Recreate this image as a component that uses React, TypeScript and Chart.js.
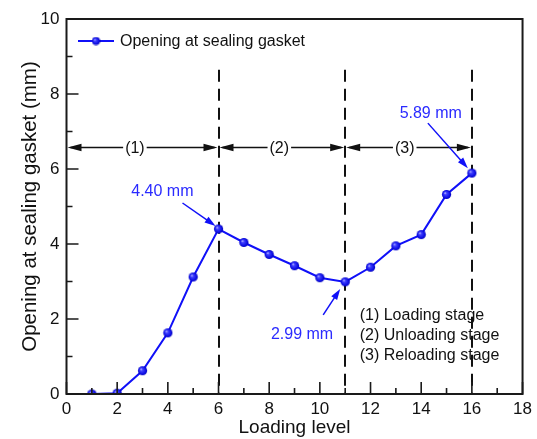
import React, { useEffect, useRef } from 'react';
import { Chart, registerables } from 'chart.js';

Chart.register(...registerables);

// ---- data ----
const loadingLevels = [1, 2, 3, 4, 5, 6, 7, 8, 9, 10, 11, 12, 13, 14, 15, 16];
const openingMm = [0.0, 0.02, 0.62, 1.63, 3.12, 4.40, 4.04, 3.72, 3.42, 3.10, 2.99, 3.38, 3.95, 4.25, 5.32, 5.89];
const xTickValues = [0, 2, 4, 6, 8, 10, 12, 14, 16, 18];
const yTickValues = [0, 2, 4, 6, 8, 10];
const stageBounds = [0, 6, 11, 16];
const stageTags = ['(1)', '(2)', '(3)'];
const stageTagAt = [2.7, 8.4, 13.35];
const stageArrowLevel = 6.6;
const dashedTopLevel = 8.65;
const stageNames = ['(1) Loading stage', '(2) Unloading stage', '(3) Reloading stage'];
const calloutLevels = [6, 11, 16];
const seriesName = 'Opening at sealing gasket';

// ---- style ----
const FONT = '"Liberation Sans", Arial, Helvetica, sans-serif';
const BLUE = '#1010f8';
const TEXT_BLUE = '#2a2aff';
const calloutGeom = [
  { tx: -25, ty: -37, ax: -36, ay: -26, hx: -3, hy: -3 },
  { tx: -12, ty: 53, ax: -22, ay: 33, hx: -5, hy: 7 },
  { tx: -10, ty: -60, ax: -44, ay: -50, hx: -4, hy: -5 },
];

function makeSphere(r: number): HTMLCanvasElement {
  const c = document.createElement('canvas');
  const s = Math.ceil(r * 2 + 1);
  c.width = s;
  c.height = s;
  const g = c.getContext('2d')!;
  const cx = s / 2, cy = s / 2;
  const grad = g.createRadialGradient(cx - r * 0.35, cy - r * 0.35, 0, cx, cy, r);
  grad.addColorStop(0, '#d8d8ff');
  grad.addColorStop(0.3, '#4040ff');
  grad.addColorStop(0.85, '#0808e0');
  grad.addColorStop(1, '#0000b0');
  g.fillStyle = grad;
  g.beginPath();
  g.arc(cx, cy, r, 0, Math.PI * 2);
  g.fill();
  return c;
}

function head(ctx: CanvasRenderingContext2D, tx: number, ty: number, fx: number, fy: number, len: number, half: number) {
  const a = Math.atan2(ty - fy, tx - fx);
  const bx = tx - Math.cos(a) * len, by = ty - Math.sin(a) * len;
  ctx.beginPath();
  ctx.moveTo(tx, ty);
  ctx.lineTo(bx + Math.sin(a) * half, by - Math.cos(a) * half);
  ctx.lineTo(bx - Math.sin(a) * half, by + Math.cos(a) * half);
  ctx.closePath();
  ctx.fill();
}

export default function App() {
  const ref = useRef<HTMLCanvasElement | null>(null);

  useEffect(() => {
    if (!ref.current) return;
    const sphere = makeSphere(4.6);
    const legendSphere = makeSphere(4);

    const overlay = {
      id: 'overlay',
      beforeDatasetsDraw(chart: any) {
        const { ctx, chartArea: ca, scales } = chart;
        const x = scales.x, y = scales.y;
        ctx.save();
        // dashed stage boundaries
        ctx.strokeStyle = '#111';
        ctx.lineWidth = 2;
        ctx.setLineDash([12, 7]);
        for (const b of stageBounds.slice(1)) {
          const px = Math.round(x.getPixelForValue(b));
          ctx.beginPath();
          ctx.moveTo(px, y.getPixelForValue(dashedTopLevel));
          ctx.lineTo(px, ca.bottom);
          ctx.stroke();
        }
        ctx.setLineDash([]);
        // stage double arrows
        const ay = Math.round(y.getPixelForValue(stageArrowLevel)) + 0.5;
        ctx.font = `16px ${FONT}`;
        ctx.textAlign = 'center';
        ctx.textBaseline = 'middle';
        ctx.fillStyle = '#111';
        ctx.lineWidth = 1.5;
        for (let i = 0; i < stageTags.length; i++) {
          const x0 = x.getPixelForValue(stageBounds[i]);
          const x1 = x.getPixelForValue(stageBounds[i + 1]);
          const lx = x.getPixelForValue(stageTagAt[i]);
          const w = ctx.measureText(stageTags[i]).width;
          ctx.beginPath();
          ctx.moveTo(x0 + 4, ay);
          ctx.lineTo(lx - w / 2 - 2, ay);
          ctx.moveTo(lx + w / 2 + 2, ay);
          ctx.lineTo(x1 - 4, ay);
          ctx.stroke();
          head(ctx, x0 + 1, ay, x0 + 20, ay, 14, 3.8);
          head(ctx, x1 - 1, ay, x1 - 20, ay, 14, 3.8);
          ctx.fillText(stageTags[i], lx, ay + 1);
        }
        ctx.restore();
      },
      afterDatasetsDraw(chart: any) {
        const { ctx, chartArea: ca, scales } = chart;
        const x = scales.x, y = scales.y;
        ctx.save();
        // callouts
        ctx.font = `16px ${FONT}`;
        ctx.textBaseline = 'middle';
        ctx.textAlign = 'right';
        for (let i = 0; i < calloutLevels.length; i++) {
          const lvl = calloutLevels[i];
          const val = openingMm[loadingLevels.indexOf(lvl)];
          const px = x.getPixelForValue(lvl), py = y.getPixelForValue(val);
          const g = calloutGeom[i];
          ctx.fillStyle = TEXT_BLUE;
          ctx.fillText(`${val.toFixed(2)} mm`, px + g.tx, py + g.ty);
          ctx.strokeStyle = BLUE;
          ctx.fillStyle = BLUE;
          ctx.lineWidth = 1.5;
          const sx = px + g.ax, sy = py + g.ay, ex = px + g.hx, ey = py + g.hy;
          const a = Math.atan2(ey - sy, ex - sx);
          ctx.beginPath();
          ctx.moveTo(sx, sy);
          ctx.lineTo(ex - Math.cos(a) * 8, ey - Math.sin(a) * 8);
          ctx.stroke();
          head(ctx, ex, ey, sx, sy, 11, 3.5);
        }
        // stage names
        ctx.fillStyle = '#111';
        ctx.textAlign = 'left';
        const nx = x.getPixelForValue(stageBounds[2]) + 14.5;
        for (let i = 0; i < stageNames.length; i++) {
          ctx.fillText(stageNames[i], nx, ca.top + 297 + i * 20);
        }
        // legend
        const ly = ca.top + 22;
        const lx = ca.left + 11.5;
        ctx.strokeStyle = BLUE;
        ctx.lineWidth = 2;
        ctx.beginPath();
        ctx.moveTo(lx, ly);
        ctx.lineTo(lx + 36, ly);
        ctx.stroke();
        ctx.drawImage(legendSphere, lx + 18 - legendSphere.width / 2, ly - legendSphere.height / 2);
        ctx.fillStyle = '#111';
        ctx.fillText(seriesName, lx + 42, ly + 1);
        // frame
        ctx.strokeStyle = '#1a1a1a';
        ctx.lineWidth = 2;
        ctx.strokeRect(ca.left, ca.top, ca.right - ca.left, ca.bottom - ca.top);
        // inward ticks
        ctx.lineWidth = 1.6;
        ctx.beginPath();
        for (let i = 0; i < xTickValues.length; i++) {
          const v = xTickValues[i];
          const px = x.getPixelForValue(v);
          ctx.moveTo(px, ca.bottom);
          ctx.lineTo(px, ca.bottom - 12);
          if (i < xTickValues.length - 1) {
            const m = x.getPixelForValue((v + xTickValues[i + 1]) / 2);
            ctx.moveTo(m, ca.bottom);
            ctx.lineTo(m, ca.bottom - 6);
          }
        }
        for (let i = 0; i < yTickValues.length; i++) {
          const v = yTickValues[i];
          const py = y.getPixelForValue(v);
          ctx.moveTo(ca.left, py);
          ctx.lineTo(ca.left + 12, py);
          if (i < yTickValues.length - 1) {
            const m = y.getPixelForValue((v + yTickValues[i + 1]) / 2);
            ctx.moveTo(ca.left, m);
            ctx.lineTo(ca.left + 6, m);
          }
        }
        ctx.stroke();
        ctx.restore();
      },
    };

    const chart = new Chart(ref.current, {
      type: 'line',
      data: {
        datasets: [
          {
            label: seriesName,
            data: loadingLevels.map((l, i) => ({ x: l, y: openingMm[i] })),
            borderColor: BLUE,
            backgroundColor: BLUE,
            borderWidth: 2,
            pointStyle: sphere as any,
            pointRadius: 4.6,
            pointHoverRadius: 4.6,
            tension: 0,
            fill: false,
          },
        ],
      },
      options: {
        responsive: false,
        maintainAspectRatio: false,
        animation: false,
        events: [],
        layout: { padding: { left: 0, right: 14, top: 19, bottom: 0 } },
        plugins: {
          legend: { display: false },
          tooltip: { enabled: false },
        },
        scales: {
          x: {
            type: 'linear',
            min: 0,
            max: 18,
            afterFit: (s: any) => { s.height = 45; },
            afterBuildTicks: (s: any) => { s.ticks = xTickValues.map((v) => ({ value: v })); },
            grid: { display: false, drawTicks: false },
            border: { display: false },
            ticks: { font: { family: FONT, size: 17 }, color: '#111', padding: 5, maxRotation: 0 },
            title: { display: true, text: 'Loading level', font: { family: FONT, size: 19 }, color: '#111', padding: { top: 0, bottom: 0 } },
          },
          y: {
            type: 'linear',
            min: 0,
            max: 10,
            afterFit: (s: any) => { s.width = 66.5; },
            afterBuildTicks: (s: any) => { s.ticks = yTickValues.map((v) => ({ value: v })); },
            grid: { display: false, drawTicks: false },
            border: { display: false },
            ticks: { font: { family: FONT, size: 17 }, color: '#111', padding: 7 },
            title: { display: true, text: 'Opening at sealing gasket (mm)', font: { family: FONT, size: 20.5 }, color: '#111', padding: { top: 18, bottom: 0 } },
          },
        },
      },
      plugins: [overlay],
    } as any);

    return () => chart.destroy();
  }, []);

  return (
    <div style={{ position: 'fixed', left: 0, top: 0, width: 537, height: 439, background: '#fff' }}>
      <canvas ref={ref} width={537} height={439} style={{ display: 'block' }} />
    </div>
  );
}
